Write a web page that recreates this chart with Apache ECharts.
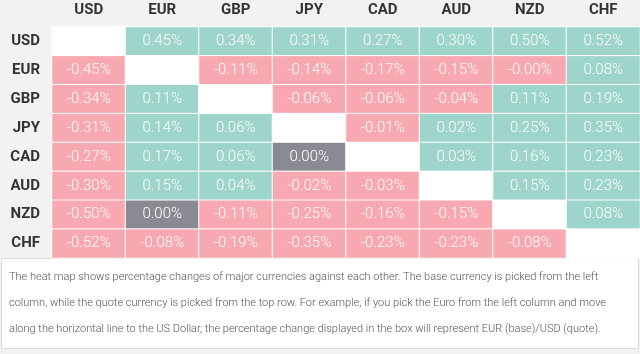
<!DOCTYPE html>
<html>
<head>
<meta charset="utf-8">
<script src="https://cdn.jsdelivr.net/npm/echarts@6/dist/echarts.min.js"></script>
<style>
html,body{margin:0;padding:0;background:#fff}
#chart{width:640px;height:354px}
</style>
</head>
<body>
<div id="chart"></div>
<script>

// currencies, base on the left, quote on top
const currencies = ["USD","EUR","GBP","JPY","CAD","AUD","NZD","CHF"]

// percentage changes as shown, "" = diagonal
const rowUSD = ["", "0.45", "0.34", "0.31", "0.27", "0.30", "0.50", "0.52"]
const rowEUR = ["-0.45", "", "-0.11", "-0.14", "-0.17", "-0.15", "-0.00", "0.08"]
const rowGBP = ["-0.34", "0.11", "", "-0.06", "-0.06", "-0.04", "0.11", "0.19"]
const rowJPY = ["-0.31", "0.14", "0.06", "", "-0.01", "0.02", "0.25", "0.35"]
const rowCAD = ["-0.27", "0.17", "0.06", "0.00", "", "0.03", "0.16", "0.23"]
const rowAUD = ["-0.30", "0.15", "0.04", "-0.02", "-0.03", "", "0.15", "0.23"]
const rowNZD = ["-0.50", "0.00", "-0.11", "-0.25", "-0.16", "-0.15", "", "0.08"]
const rowCHF = ["-0.52", "-0.08", "-0.19", "-0.35", "-0.23", "-0.23", "-0.08", ""]

const rows = [rowUSD,rowEUR,rowGBP,rowJPY,rowCAD,rowAUD,rowNZD,rowCHF]

const note = [
"The heat map shows percentage changes of major currencies against each other. The base currency is picked from the left",
"column, while the quote currency is picked from the top row. For example, if you pick the Euro from the left column and move",
"along the horizontal line to the US Dollar, the percentage change displayed in the box will represent EUR (base)/USD (quote)."
]

const UP = "#9dd5ca"
const DOWN = "#f7a8b0"
const FLAT = "#8a8a92"

function cellColor(s){
if(s === "") return "#ffffff"
if(s.charAt(0) === "-") return DOWN
if(parseFloat(s) === 0) return FLAT
return UP
}

const data = []
rows.forEach((row, y) => {
row.forEach((s, x) => {
data.push({
value:[x, y, s === "" ? 0 : parseFloat(s)],
txt:s === "" ? "" : s + "%",
itemStyle:{color:cellColor(s)}
})
})
})

const chart = echarts.init(document.getElementById("chart"))

chart.setOption({

backgroundColor:"#f2f2f2",
animation:false,

grid:{left:52, top:27, width:588, height:231},

xAxis:{
type:"category",
position:"top",
data:currencies,
axisLine:{show:false},
axisTick:{show:false},
splitArea:{show:false},
axisLabel:{
margin:9,
color:"#333",
fontFamily:"Roboto",
fontWeight:"bold",
fontSize:15
}
},

yAxis:{
type:"category",
inverse:true,
data:currencies,
axisLine:{show:false},
axisTick:{show:false},
axisLabel:{
margin:12,
color:"#333",
fontFamily:"Roboto",
fontWeight:"bold",
fontSize:15
}
},

graphic:[
{
type:"rect",
shape:{x:1.5, y:258.5, width:637, height:90},
style:{fill:"#ffffff", stroke:"#dcdcdc", lineWidth:1},
z:0
},
...note.map((t, i) => ({
type:"text",
left:9,
top:272 + i*26,
style:{
text:t,
fill:"#555",
font:"300 11px Roboto"
},
z:1
}))
],

series:[{
type:"heatmap",
data:data,
itemStyle:{borderColor:"#ffffff", borderWidth:1},
label:{
show:true,
formatter:p => p.data.txt,
color:"#ffffff",
fontFamily:"Roboto",
fontWeight:300,
fontSize:15
},
emphasis:{disabled:true}
}]

})

</script>
</body>
</html>
